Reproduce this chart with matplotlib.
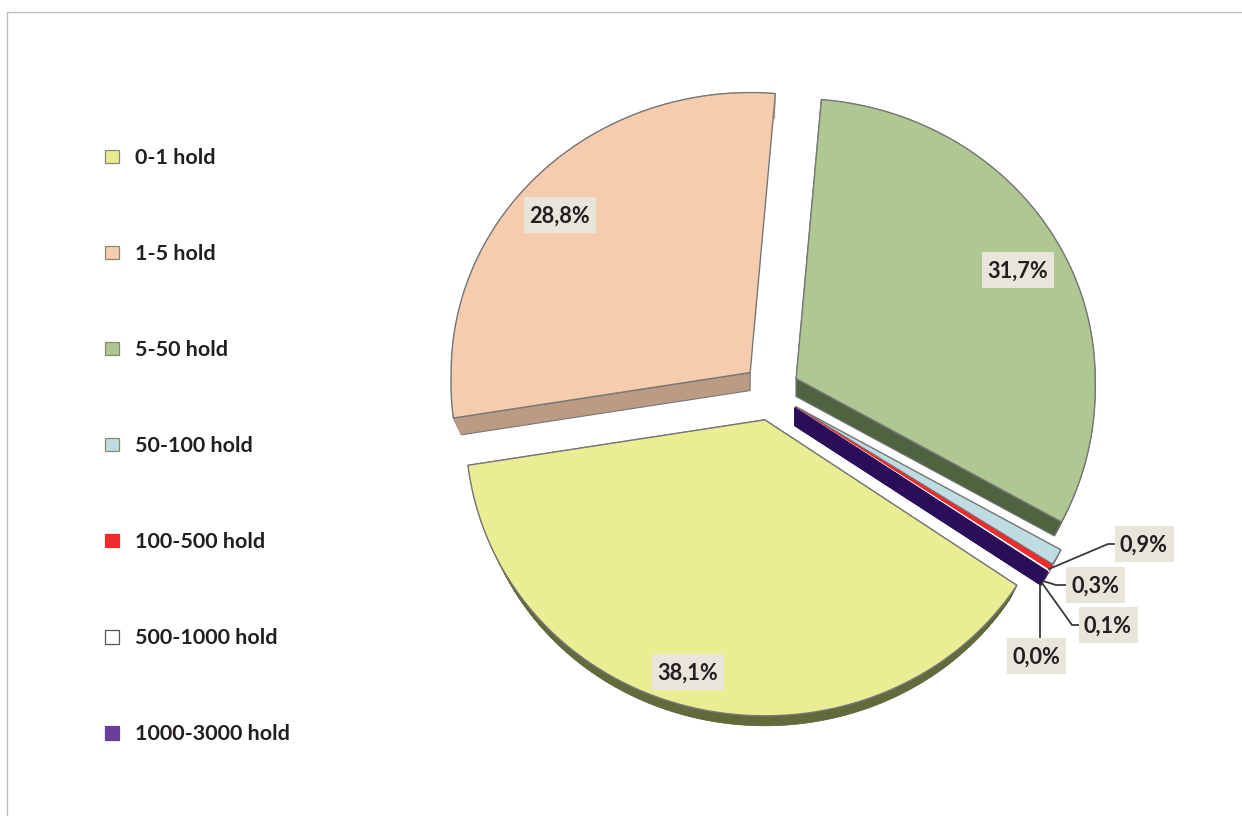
#!/usr/bin/env python
import numpy as np
import matplotlib
matplotlib.use("Agg")
import matplotlib.pyplot as plt
from matplotlib.patches import Polygon, Rectangle

categories = [
    "0-1 hold",
    "1-5 hold",
    "5-50 hold",
    "50-100 hold",
    "100-500 hold",
    "500-1000 hold",
    "1000-3000 hold",
]
shares = [38.1, 28.8, 31.7, 0.9, 0.3, 0.1, 0.0]
value_labels = ["38,1%", "28,8%", "31,7%", "0,9%", "0,3%", "0,1%", "0,0%"]

top_colors = ["#EBED94", "#F5CDAE", "#AEC793", "#BEDCE2", "#EE2C2C", "#FFFFFF", "#2A0E5A"]
side_colors = ["#61683A", "#BC9B85", "#4F6340", "#8FA5AA", "#A02020", "#BBBBBB", "#2A0E5A"]
swatch_colors = ["#EAEC93", "#F5CDAE", "#AEC793", "#BEDCE2", "#EE2C2C", "#FFFFFF", "#6A3F9C"]

# pie geometry, in figure pixels
CENTER = (771.0, 392.0)
EXPLODE = 28.5
RX, RX_FRONT, RY_UP, RY_DOWN = 299.0, 9.0, 280.0, 296.0
START_ANGLE = 34.0
DEPTH = 18.0
SHRINK = 0.973

# label box centres and leader lines, per slice
label_pos = [(688, 672), (560, 215), (1018, 270), (1144, 544), (1095, 585), (1108, 625), (1036, 656)]
leaders = [
    None,
    None,
    None,
    [(1049, 569), (1108, 544), (1114, 544)],
    [(1043, 581), (1056, 585), (1066, 585)],
    [(1042, 583), (1072, 625), (1079, 625)],
    [(1040, 585), (1040, 638)],
]

EDGE = "#777777"
TEXT = "#231F20"
BOX = "#E8E6DA"
plt.rcParams["font.family"] = ["Lato", "DejaVu Sans"]


def slice_outline(start, end, apex):
    # apex followed by the rim; the front of the pie bulges a little from the perspective
    angles = np.radians(np.linspace(start, end, max(int(end - start) * 2, 2)))
    sines = np.sin(angles)
    xs = (RX + RX_FRONT * np.clip(sines, 0, None)) * np.cos(angles)
    ys = np.where(sines > 0, RY_DOWN, RY_UP) * sines
    rim = np.column_stack([apex[0] + xs, apex[1] + ys])
    return np.vstack([[apex], rim])


def lower_face(outline, apex):
    return np.asarray(apex) + SHRINK * (outline - np.asarray(apex)) + [0, DEPTH]


fig = plt.figure(figsize=(12.42, 8.16), dpi=100)
ax = fig.add_axes([0, 0, 1, 1])
ax.set_xlim(0, 1242)
ax.set_ylim(816, 0)
ax.axis("off")

# thin frame around the chart, cut off on the right and bottom
ax.plot([7, 7, 1242], [816, 12, 12], color="#BDBDBD", lw=1)

edges = START_ANGLE + np.concatenate([[0], np.cumsum(shares)]) * 3.6
slices = []
for i in range(len(shares)):
    mid = np.radians((edges[i] + edges[i + 1]) / 2)
    apex = (CENTER[0] + EXPLODE * np.cos(mid), CENTER[1] + EXPLODE * np.sin(mid))
    slices.append((i, slice_outline(edges[i], edges[i + 1], apex), apex))

# green and the thin slices sit behind peach and yellow
for i, top, apex in [slices[k] for k in (2, 3, 4, 5, 6, 1, 0)]:
    low = lower_face(top, apex)
    n = len(top)
    for a in range(n):
        b = (a + 1) % n
        # the far wall of the peach slice faces away from the viewer
        if i == 1 and b == 0:
            continue
        wall = [top[a], top[b], low[b], low[a]]
        # the straight walls get an outline, the rim does not
        straight = a == 0 or b == 0
        ax.add_patch(Polygon(wall, closed=True, fc=side_colors[i],
                             ec=EDGE if straight and i < 3 else side_colors[i],
                             lw=0.8 if straight and i < 3 else 0.5))
    ax.add_patch(Polygon(top, closed=True, fc=top_colors[i],
                         ec=EDGE if i < 4 else top_colors[i], lw=1.0, joinstyle="miter"))

for text, pos, leader in zip(value_labels, label_pos, leaders):
    if leader is not None:
        xs, ys = zip(*leader)
        ax.plot(xs, ys, color="#3A3A3A", lw=1.3, solid_joinstyle="miter")
    width = 72 if len(text) > 4 else 59
    ax.add_patch(Rectangle((pos[0] - width / 2, pos[1] - 18), width, 36, fc=BOX, ec="none", zorder=4))
    ax.text(pos[0], pos[1] + 1.5, text, ha="center", va="center", fontsize=15.7,
            fontweight="bold", color=TEXT, zorder=5)

# legend column on the left
for i, (name, color) in enumerate(zip(categories, swatch_colors)):
    y = 156 + 96.1 * i
    edge = "#555555" if color == "#FFFFFF" else "#8A8A6A" if i < 4 else color
    ax.add_patch(Rectangle((105, y - 6.5), 13.5, 13.5, fc=color, ec=edge, lw=0.9))
    ax.text(135, y + 1.5, name, ha="left", va="center", fontsize=15.45, fontweight="bold", color=TEXT)

fig.savefig("out.png", dpi=100)
